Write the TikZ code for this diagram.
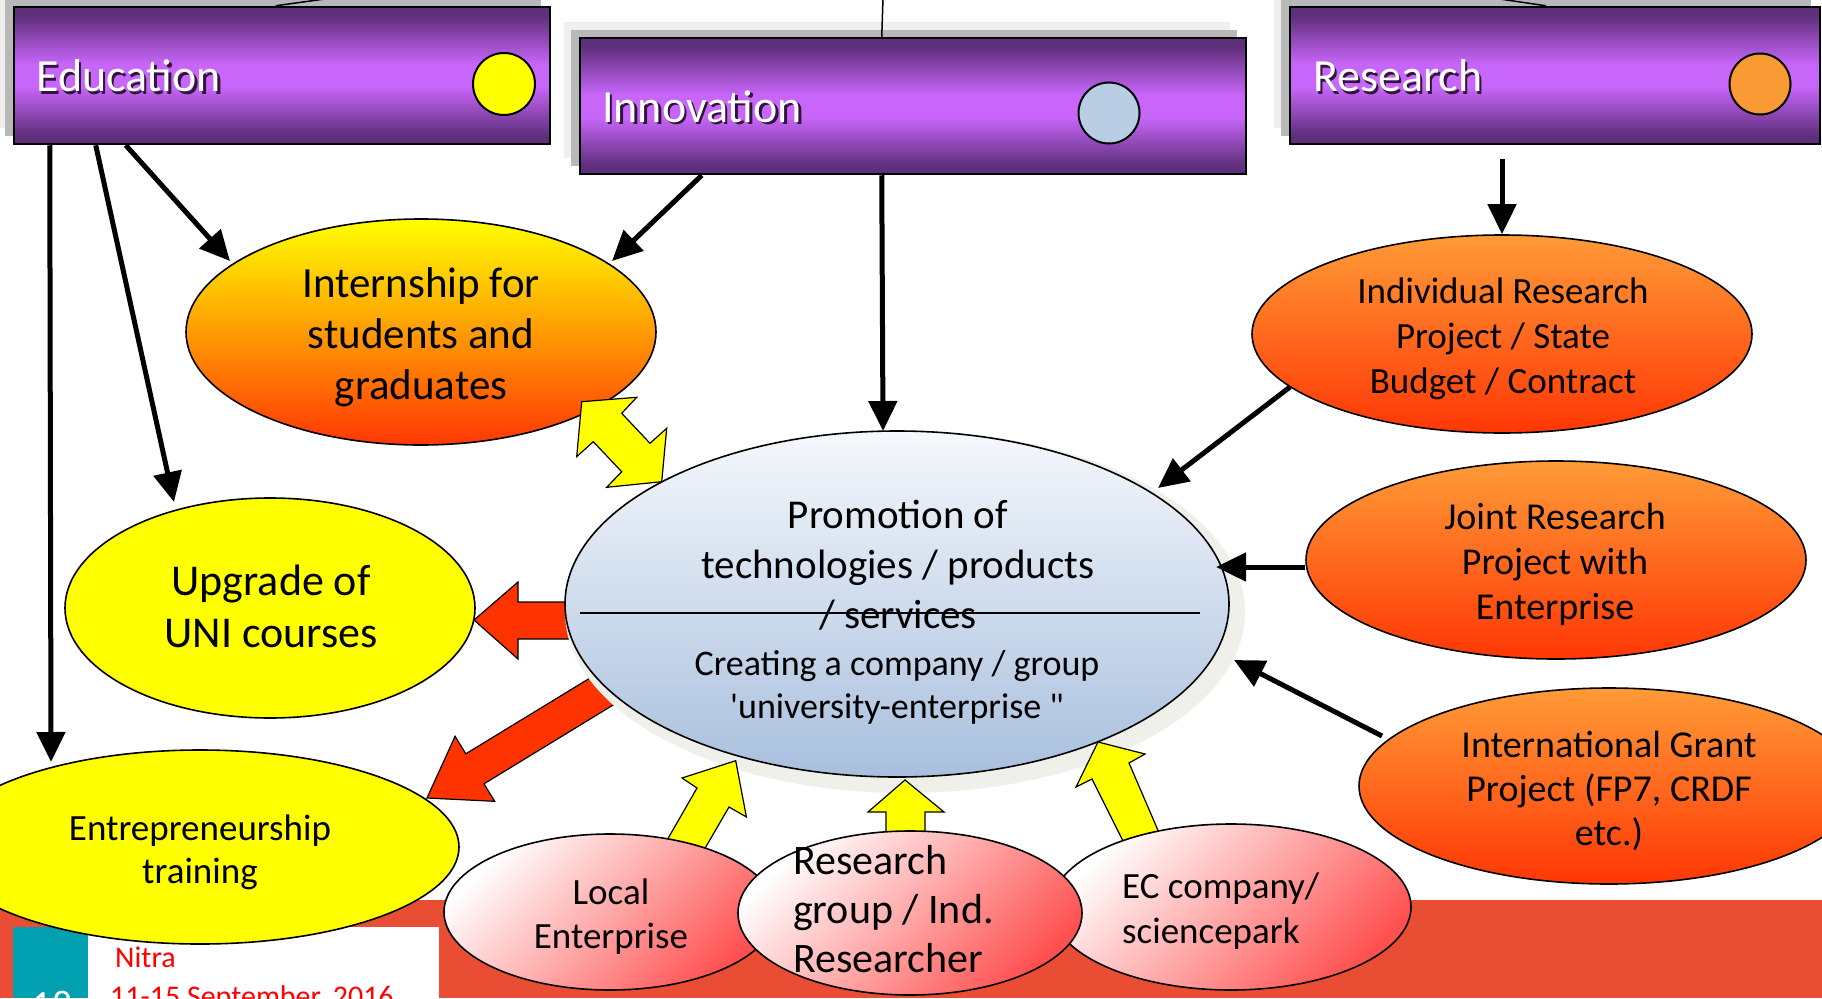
\documentclass[tikz,border=0pt]{standalone}
\usepackage{fontspec}
\setmainfont{Carlito}
\usetikzlibrary{shapes.geometric,arrows.meta}
\definecolor{pdark}{RGB}{94,47,122}
\definecolor{pbright}{RGB}{200,102,250}
\pgfdeclareverticalshading{purpbar}{100bp}{color(0bp)=(pdark); color(25bp)=(pdark); color(28bp)=(pdark); color(46bp)=(pbright); color(54bp)=(pbright); color(72bp)=(pdark); color(75bp)=(pdark); color(100bp)=(pdark)}
\definecolor{yel}{RGB}{255,255,0}
\definecolor{redarrow}{RGB}{255,51,0}
\definecolor{orTop}{RGB}{255,155,55}
\definecolor{orBot}{RGB}{255,55,5}
\definecolor{intMid}{RGB}{255,175,0}
\definecolor{promTop}{RGB}{245,248,252}
\definecolor{promBot}{RGB}{168,191,221}
\definecolor{pinkMid}{RGB}{255,200,200}
\definecolor{pinkBot}{RGB}{255,80,80}
\definecolor{band}{RGB}{233,78,53}
\definecolor{tealbox}{RGB}{0,160,176}
\definecolor{shdark}{RGB}{184,184,184}
\definecolor{shlight}{RGB}{239,239,239}
\definecolor{circblue}{RGB}{185,205,229}
\definecolor{circor}{RGB}{249,154,53}
\definecolor{pshadow}{RGB}{240,240,235}
\definecolor{txtshadow}{RGB}{48,20,60}
\newcommand\setfs[2]{\fontsize{#1}{#2}\selectfont}
\begin{document}
\begin{tikzpicture}[x=1pt,y=-1pt,
  topbox/.style={rectangle,draw=black,line width=2.5pt,shade,shading=purpbar,inner sep=0pt},
  boxlabel/.style={anchor=base west,font=\setfs{46}{55},text=white,inner sep=0pt},
  boxlabelshadow/.style={boxlabel,text=txtshadow},
  dot/.style={circle,draw=black,line width=2pt,inner sep=0pt,minimum size=62pt},
  oval/.style={ellipse,draw=black,line width=1.6pt,inner sep=0pt},
  orangeoval/.style={oval,top color=orTop,bottom color=orBot},
  pinkoval/.style={oval,top color=white,middle color=pinkMid,bottom color=pinkBot,shading angle=45},
  yelloval/.style={oval,fill=yel},
  arr/.style={line width=5pt,-{Triangle[length=30pt,width=28pt]}},
  thinline/.style={line width=1.5pt},
  redblock/.style={fill=redarrow,draw=black,line width=1.2pt,line join=miter},
  yblock/.style={fill=yel,draw=black,line width=1.2pt,line join=miter},
  txt/.style={align=center,inner sep=0pt}
]
\useasboundingbox (0,0) rectangle (1822,998);
\clip (0,0) rectangle (1822,998);
\fill[white] (0,0) rectangle (1822,998);

% footer band
\fill[band] (0,900) rectangle (1822,998);
\fill[white] (88,927) rectangle (439,998);
\fill[tealbox] (13,927) rectangle (88,998);
\node[anchor=base,font=\setfs{40}{48},text=white,inner sep=0pt] (slideno) at (52,1018) {18};
\node[anchor=base west,font=\setfs{30}{36},text=red,inner sep=0pt] (city) at (115,967) {Nitra};
\node[anchor=base west,font=\setfs{30}{36},text=red,inner sep=0pt] (date) at (110,1006) {11-15 September, 2016};

% box shadows
\fill[shlight] (-2,-9) rectangle (534,128);
\fill[shdark] (5,-1) rectangle (541,136);
\fill[shlight] (564,22) rectangle (1230,158);
\fill[shdark] (571,30) rectangle (1237,166);
\fill[shlight] (1274,-9) rectangle (1804,128);
\fill[shdark] (1281,-1) rectangle (1811,136);

% top boxes
\node[topbox,minimum width=536pt,minimum height=137pt] (edu) at (282,75.5) {};
\node[topbox,minimum width=666pt,minimum height=136pt] (inn) at (913,106) {};
\node[topbox,minimum width=530pt,minimum height=137pt] (res) at (1555,75.5) {};
\node[boxlabelshadow] (edush) at (38.5,94.5) {Education};
\node[boxlabel] (edulab) at (36,92) {Education};
\node[boxlabelshadow] (innsh) at (604.5,124.5) {Innovation};
\node[boxlabel] (innlab) at (602,122) {Innovation};
\node[boxlabelshadow] (ressh) at (1315.5,94.5) {Research};
\node[boxlabel] (reslab) at (1313,92) {Research};
\node[dot,fill=yel] (educ) at (504,84) {};
\node[dot,fill=circblue,minimum size=61pt] (innc) at (1109,113) {};
\node[dot,fill=circor,minimum size=61pt] (resc) at (1760,84) {};

% connectors leaving the top
\coordinate (eduout) at (332,-2);
\coordinate (innout) at (883,-2);
\coordinate (resout) at (1493,-2);
\draw[thinline] ([xshift=263pt]edu.north west) -- (eduout);
\draw[thinline] ([xshift=303pt]inn.north west) -- (innout);
\draw[thinline] ([xshift=257pt]res.north west) -- (resout);

% red block arrows (behind the central ellipse)
\draw[redblock] (474,620) -- (518,582) -- (518,602) -- (582,602) -- (582,639) -- (518,639) -- (518,659) -- cycle;
\draw[redblock] (427,798) -- (455.1,736.3) -- (465.8,753.8) -- (606.9,667.7) -- (625.1,697.7) -- (484.0,783.8) -- (494.7,801.3) -- cycle;

% central ellipse
\node[ellipse,fill=pshadow,inner sep=0pt,minimum width=680pt,minimum height=362pt] (promsh) at (905,612) {};
\node[oval,top color=promTop,bottom color=promBot,minimum width=664pt,minimum height=346pt] (prom) at (897,604) {};
\node[txt,font=\setfs{41}{50}] (promtxt) at (898,565) {Promotion of\\technologies / products\\/ services};
\node[txt,font=\setfs{36}{43}] (promtxt2) at (897,687) {Creating a company / group\\\textquotesingle university-enterprise \textquotedbl};
\coordinate (pl) at (580,613);
\coordinate (pr) at (1200,613);
\draw[thinline] (pl) -- (pr);

% left ellipses
\node[oval,top color=yel,middle color=intMid,bottom color=orBot,minimum width=470pt,minimum height=226pt] (intern) at (421,332) {};
\node[txt,font=\setfs{43}{51}] (interntxt) at (421,337) {Internship for\\students and\\graduates};
\node[yelloval,minimum width=410pt,minimum height=220pt] (upg) at (270,608) {};
\node[txt,font=\setfs{44}{52}] (upgtxt) at (271,606) {Upgrade of\\UNI courses};
\node[yelloval,minimum width=518pt,minimum height=194pt] (ent) at (200,847) {};
\node[txt,font=\setfs{37}{43}] (enttxt) at (200,852) {Entrepreneurship\\training};

% right ellipses
\node[orangeoval,minimum width=500pt,minimum height=198pt] (indiv) at (1502,334) {};
\node[txt,font=\setfs{37}{45}] (indivtxt) at (1503,339) {Individual Research\\Project / State\\Budget / Contract};
\node[orangeoval,minimum width=500pt,minimum height=198pt] (joint) at (1556,560) {};
\node[txt,font=\setfs{38}{45}] (jointtxt) at (1555,564) {Joint Research\\Project with\\Enterprise};
\node[orangeoval,minimum width=500pt,minimum height=196pt] (intl) at (1609,786) {};
\node[txt,font=\setfs{38}{44}] (intltxt) at (1609,791) {International Grant\\Project (FP7, CRDF\\etc.)};

% yellow block arrows from the bottom
\draw[yblock] (735.7,760.7) -- (746.4,817) -- (729,807) -- (704,850) -- (666,842) -- (697,788) -- (682,778) -- cycle;
\draw[yblock] (905,780) -- (944,812) -- (925,812) -- (925,848) -- (886,848) -- (886,812) -- (868,812) -- cycle;
\draw[yblock] (1098,742) -- (1145,754) -- (1129,763) -- (1163,842) -- (1126,847) -- (1092,779) -- (1076,787) -- cycle;

% bottom ellipses
\node[pinkoval,minimum width=332pt,minimum height=156pt] (local) at (610,912) {};
\node[txt,font=\setfs{37}{44}] (localtxt) at (611,917) {Local\\Enterprise};
\node[pinkoval,minimum width=360pt,minimum height=166pt] (ec) at (1231,907) {};
\node[txt,align=left,anchor=west,font=\setfs{37}{45}] (ectxt) at (1122,911) {EC company/\\sciencepark};
\node[pinkoval,minimum width=344pt,minimum height=164pt] (rgroup) at (910,913) {};
\node[txt,align=left,anchor=west,font=\setfs{42}{49}] (rgrouptxt) at (793,909) {Research\\group / Ind.\\Researcher};

% yellow double arrow
\draw[yblock] (581.7,401.7) -- (636.7,397.3) -- (621.7,413.3) -- (650,443.3) -- (666.7,428.3) -- (661.7,481.7) -- (606.7,487.3) -- (621.7,471.7) -- (593.3,441.7) -- (576.7,456.7) -- cycle;

% black arrows
\coordinate (t1) at (51,762);
\coordinate (t2) at (174,502);
\coordinate (t3) at (230,261);
\coordinate (t4) at (612,261);
\coordinate (t5) at (883,431);
\coordinate (s6) at (1502,159);
\coordinate (s7) at (1290,387);
\coordinate (t7) at (1158,488);
\coordinate (t8) at (1216,567);
\coordinate (s9) at (1382,736);
\coordinate (t9) at (1234,660);
\draw[arr] ([xshift=37pt]edu.south west) -- (t1);
\draw[arr] ([xshift=83pt]edu.south west) -- (t2);
\draw[arr] ([xshift=113pt]edu.south west) -- (t3);
\draw[arr] ([xshift=123pt]inn.south west) -- (t4);
\draw[arr] ([xshift=303pt]inn.south west) -- (t5);
\draw[arr] (s6) -- (indiv.north);
\draw[arr] (s7) -- (t7);
\draw[arr] ([yshift=-7pt]joint.west) -- (t8);
\draw[arr] (s9) -- (t9);
\end{tikzpicture}
\end{document}
